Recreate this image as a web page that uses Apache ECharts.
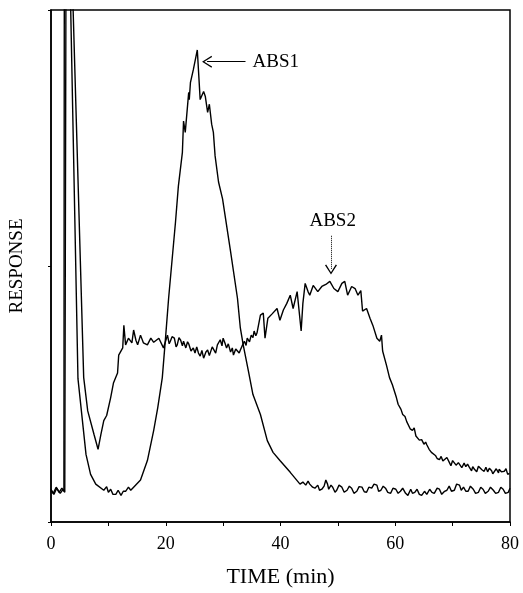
<!DOCTYPE html>
<html>
<head>
<meta charset="utf-8">
<script src="https://cdn.jsdelivr.net/npm/echarts@6/dist/echarts.min.js"></script>
<style>
  html, body { margin: 0; padding: 0; background: #fff; }
  #chart { width: 523px; height: 593px; }
</style>
</head>
<body>
<div id="chart"></div>
<script>
const tempoAbs1 = [0, 0.5, 1.0, 1.6, 2.1, 2.4, 2.65, 2.7, 3.35, 4.7, 6.1, 6.9, 7.8, 9.2, 9.7, 10.0, 10.4, 10.8, 11.3, 11.7, 12.2, 12.6, 13.0, 13.5, 13.9, 14.4, 15.6, 16.8, 17.9, 18.6, 19.4, 20.0, 20.5, 21.7, 22.2, 22.9, 23.1, 23.4, 24.0, 24.1, 24.3, 24.8, 25.5, 26.0, 26.6, 26.9, 27.3, 27.6, 28.0, 28.3, 28.6, 29.2, 29.9, 31.3, 32.5, 33.0, 33.5, 34.4, 35.2, 36.5, 37.7, 38.7, 39.9, 41.7, 43.4, 43.9, 44.4, 44.8, 45.1, 45.6, 46.0, 46.5, 46.8, 47.2, 47.6, 47.9, 48.2, 48.4, 48.8, 49.1, 49.5, 49.8, 50.2, 50.7, 51.1, 51.6, 52.0, 52.4, 52.8, 53.3, 53.7, 54.2, 54.6, 55.0, 55.4, 55.9, 56.3, 56.8, 57.1, 57.5, 57.9, 58.3, 58.7, 59.2, 59.6, 60.1, 60.5, 60.9, 61.3, 61.8, 62.2, 62.7, 63.0, 63.4, 63.8, 64.2, 64.6, 65.1, 65.5, 66.0, 66.4, 66.8, 67.3, 67.7, 68.1, 68.6, 69.0, 69.4, 69.8, 70.3, 70.7, 71.2, 71.5, 71.9, 72.3, 72.7, 73.1, 73.6, 74.0, 74.5, 74.9, 75.3, 75.7, 76.2, 76.6, 77.1, 77.5, 78.0, 78.4, 78.8, 79.2, 79.7, 80.0];
const respAbs1 = [6.2, 5.4, 6.6, 5.6, 6.4, 5.8, 6.0, 150, 105, 28, 13.2, 9.3, 7.4, 6.2, 6.9, 5.8, 6.4, 5.4, 5.4, 6.2, 5.2, 6.0, 6.0, 6.8, 6.2, 6.8, 8.2, 12.0, 17.9, 22.3, 28.2, 36.5, 43.7, 58.6, 65.6, 72.2, 78.3, 76.1, 83.9, 82.5, 85.8, 88.3, 92.2, 82.5, 84.1, 83.1, 80.0, 81.6, 77.7, 76.1, 71.5, 66.4, 63.1, 52.8, 43.7, 37.9, 34.6, 29.5, 24.9, 21.0, 15.9, 13.6, 12.0, 9.7, 7.4, 7.8, 7.2, 8.0, 7.4, 6.8, 6.6, 7.2, 6.2, 6.4, 7.0, 8.2, 7.4, 6.4, 7.2, 6.8, 5.8, 6.2, 7.2, 6.8, 5.8, 6.2, 7.0, 6.6, 5.6, 6.0, 6.9, 6.8, 5.9, 5.8, 6.8, 6.6, 7.4, 7.2, 6.0, 6.2, 7.0, 6.6, 5.8, 5.6, 6.6, 6.4, 5.6, 6.0, 6.6, 5.6, 5.2, 6.4, 5.6, 5.8, 6.4, 5.4, 5.2, 6.0, 5.4, 6.4, 5.8, 5.6, 6.6, 6.4, 5.4, 6.0, 6.2, 7.0, 6.0, 6.2, 7.4, 7.2, 6.2, 6.8, 6.0, 6.0, 7.0, 6.4, 5.6, 5.8, 6.8, 6.4, 5.6, 6.0, 6.8, 6.2, 5.6, 5.8, 6.8, 6.4, 5.6, 5.8, 6.6];

const tempoAbs2 = [0, 0.4, 0.9, 1.4, 1.9, 2.25, 2.35, 3.6, 5.7, 6.4, 7.5, 8.2, 8.7, 9.2, 9.7, 10.4, 10.9, 11.6, 11.8, 12.5, 12.7, 13.0, 13.5, 14.1, 14.4, 14.8, 15.1, 15.6, 16.1, 16.8, 17.4, 17.9, 18.8, 19.6, 20.3, 20.6, 20.8, 21.1, 21.5, 21.8, 22.0, 22.3, 22.6, 22.9, 23.1, 23.5, 23.8, 24.0, 24.4, 24.8, 25.1, 25.4, 25.7, 26.0, 26.3, 26.6, 27.0, 27.3, 27.6, 27.8, 28.1, 28.3, 28.7, 29.0, 29.2, 29.5, 29.8, 30.0, 30.3, 30.6, 30.9, 31.3, 31.6, 31.8, 32.2, 32.5, 32.8, 33.0, 33.4, 33.7, 34.0, 34.2, 34.6, 34.9, 35.2, 35.4, 35.7, 35.9, 36.5, 37.0, 37.3, 37.8, 38.5, 39.4, 39.9, 40.5, 41.1, 41.7, 42.2, 42.9, 43.2, 43.6, 43.9, 44.3, 44.8, 45.1, 45.7, 46.5, 47.2, 47.9, 48.6, 49.3, 50.0, 50.7, 51.2, 51.7, 52.4, 53.0, 53.5, 54.0, 54.3, 55.0, 55.6, 56.1, 56.8, 57.3, 57.6, 57.8, 58.5, 59.0, 59.5, 60.2, 60.5, 60.8, 61.0, 61.3, 61.7, 62.0, 62.2, 62.6, 63.0, 63.3, 63.6, 63.9, 64.2, 64.6, 65.0, 65.3, 65.5, 65.9, 66.3, 66.6, 67.0, 67.3, 67.7, 68.0, 68.3, 68.6, 69.0, 69.4, 69.7, 70.0, 70.3, 70.6, 71.0, 71.2, 71.6, 72.0, 72.3, 72.6, 72.9, 73.3, 73.5, 73.8, 74.2, 74.5, 74.7, 75.1, 75.5, 75.8, 76.1, 76.4, 76.8, 77.0, 77.3, 77.6, 78.0, 78.1, 78.5, 79.0, 79.3, 79.6, 79.9];
const respAbs2 = [6.4, 5.6, 6.8, 5.8, 6.6, 6.0, 150, 110, 28.2, 21.7, 17.1, 14.2, 17.1, 19.8, 20.8, 24.3, 27.2, 29.1, 32.6, 34.0, 38.4, 34.6, 35.9, 35.0, 37.5, 35.5, 34.6, 36.5, 35.0, 34.6, 35.9, 35.1, 35.9, 34.0, 36.5, 34.8, 35.3, 36.2, 35.9, 34.2, 34.6, 36.0, 35.5, 34.4, 35.3, 34.0, 35.2, 34.8, 33.4, 34.0, 33.0, 34.2, 33.0, 32.4, 33.5, 32.0, 33.2, 33.6, 32.5, 32.8, 34.2, 34.0, 33.0, 34.6, 34.8, 35.6, 34.4, 35.9, 35.0, 34.0, 34.8, 33.2, 34.0, 32.6, 33.8, 34.0, 33.0, 33.6, 34.6, 35.3, 34.5, 35.9, 35.2, 36.5, 36.0, 37.3, 36.4, 36.9, 40.4, 40.8, 35.9, 39.8, 40.6, 41.7, 39.4, 41.4, 42.7, 44.3, 41.7, 45.0, 41.7, 37.3, 42.7, 46.6, 45.0, 44.3, 46.2, 45.0, 46.0, 46.4, 47.0, 45.6, 45.0, 46.6, 47.0, 44.3, 46.0, 45.6, 44.3, 45.2, 41.2, 41.7, 39.8, 38.4, 35.9, 35.3, 36.5, 33.4, 30.5, 28.2, 26.8, 24.3, 23.0, 23.3, 22.0, 21.0, 20.6, 19.6, 19.4, 18.2, 17.9, 18.4, 16.8, 16.9, 16.0, 16.1, 15.2, 15.6, 15.1, 14.2, 13.6, 13.9, 13.0, 12.4, 12.2, 12.8, 11.9, 12.0, 12.6, 11.7, 11.0, 12.0, 11.8, 11.1, 11.6, 11.3, 10.6, 11.5, 10.8, 11.3, 10.7, 10.0, 10.8, 10.3, 9.8, 10.9, 10.9, 10.2, 9.9, 10.7, 9.8, 10.5, 10.0, 9.4, 9.7, 10.4, 9.6, 10.3, 9.8, 9.9, 10.4, 9.3, 9.5];

// Rótulos das setas e eixos
const rotulos = ["ABS1", "ABS2"];
const tituloX = "TIME (min)";
const tituloY = "RESPONSE";

const fonte = '"Liberation Serif", "Times New Roman", serif';
// ponta de seta aberta, tipo "<"
const seta = 'path://M0,10 L5,0 L10,10 L9,10.6 L5,2.4 L1,10.6 Z';

function juntar(xs, ys) {
    return xs.map((x, i) => [x, ys[i]]);
}

const chart = echarts.init(document.getElementById("chart"));
chart.setOption({
    animation: false,
    grid: {
        left: 50, right: 13, top: 10, bottom: 68,
        show: true,
        borderColor: '#000',
        borderWidth: 1.5
    },
    xAxis: {
        type: 'value',
        min: 0,
        max: 80,
        interval: 20,
        name: tituloX,
        nameLocation: 'middle',
        nameGap: 44,
        nameTextStyle: { fontFamily: fonte, fontSize: 22, color: '#000' },
        axisLine: { lineStyle: { color: '#000', width: 1.5 } },
        axisTick: { show: true, length: 4, lineStyle: { color: '#000' } },
        minorTick: { show: true, splitNumber: 2, length: 4, lineStyle: { color: '#000' } },
        axisLabel: { fontFamily: fonte, fontSize: 18, color: '#000', margin: 13 },
        splitLine: { show: false }
    },
    yAxis: {
        type: 'value',
        min: 0,
        max: 100,
        interval: 50,
        name: tituloY,
        nameLocation: 'middle',
        nameGap: 24,
        nameTextStyle: { fontFamily: fonte, fontSize: 19, color: '#000' },
        axisLine: { show: true, lineStyle: { color: '#000', width: 1.5 } },
        axisTick: { show: true, length: 3, lineStyle: { color: '#000' } },
        axisLabel: { show: false },
        splitLine: { show: false }
    },
    series: [
        {
            type: 'line',
            name: rotulos[0],
            data: juntar(tempoAbs1, respAbs1),
            showSymbol: false,
            clip: true,
            lineStyle: { color: '#000', width: 1.4 },
            markLine: {
                silent: true,
                symbol: ['none', seta],
                symbolSize: [12, 10],
                itemStyle: { color: '#000' },
                lineStyle: { color: '#000', width: 1.2, type: 'solid' },
                label: { show: false },
                data: [[{ coord: [33.9, 89.9] }, { coord: [27.2, 89.9] }]]
            },
            markPoint: {
                silent: true,
                symbol: 'circle',
                symbolSize: 1,
                itemStyle: { color: 'rgba(0,0,0,0)' },
                label: {
                    show: true, position: 'right', distance: 2,
                    fontFamily: fonte, fontSize: 19, color: '#000',
                    formatter: rotulos[0]
                },
                data: [{ coord: [34.7, 89.9] }]
            }
        },
        {
            type: 'line',
            name: rotulos[1],
            data: juntar(tempoAbs2, respAbs2),
            showSymbol: false,
            clip: true,
            lineStyle: { color: '#000', width: 1.4 },
            markLine: {
                silent: true,
                symbol: ['none', seta],
                symbolSize: [12, 10],
                itemStyle: { color: '#000' },
                lineStyle: { color: '#000', width: 1, type: 'dotted' },
                label: { show: false },
                data: [[{ coord: [48.8, 55.9] }, { coord: [48.8, 49.3] }]]
            },
            markPoint: {
                silent: true,
                symbol: 'circle',
                symbolSize: 1,
                itemStyle: { color: 'rgba(0,0,0,0)' },
                label: {
                    show: true, position: 'inside',
                    fontFamily: fonte, fontSize: 19, color: '#000',
                    formatter: rotulos[1]
                },
                data: [{ coord: [49.1, 58.8] }]
            }
        }
    ]
});
</script>
</body>
</html>
